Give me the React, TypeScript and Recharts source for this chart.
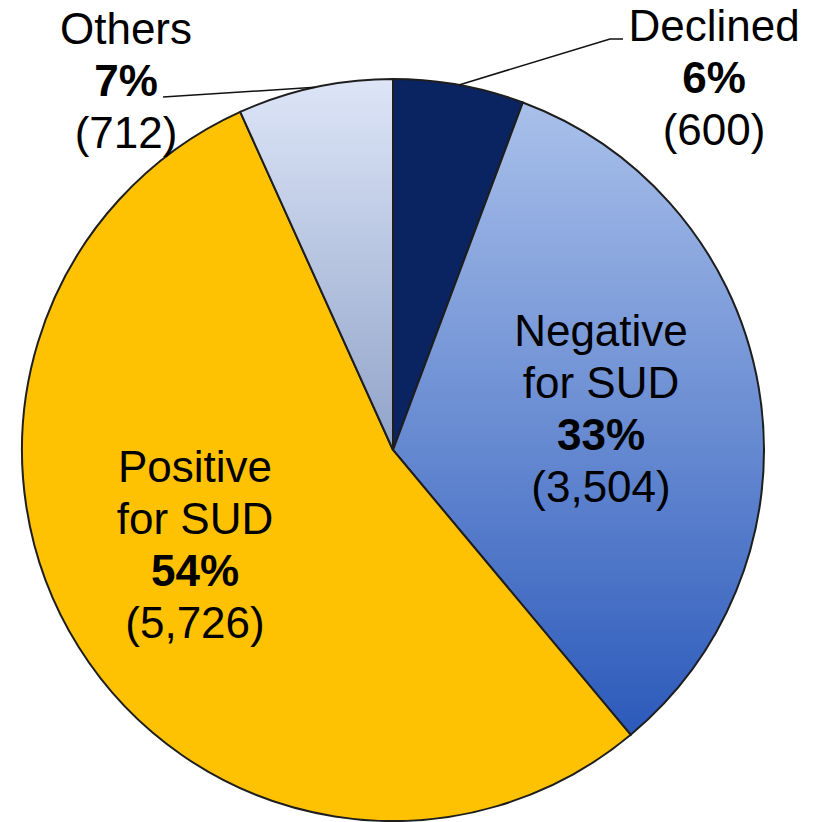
import React from "react";
import { PieChart, Pie, Cell } from "recharts";

// screening outcome slices, clockwise from 12 o'clock
const NAMES = [["Declined"], ["Negative", "for SUD"], ["Positive", "for SUD"], ["Others"]];
const COUNTS = [600, 3504, 5726, 712];
const FILLS = ["#0a2462", "url(#gradNeg)", "#ffc202", "url(#gradOth)"];

// label placement relative to pie centre, leader end points (px)
const LABEL_POS: { dx: number; dy: number; leader?: number[][] }[] = [
  { dx: 321, dy: -409, leader: [[217, -411], [230, -411]] },
  { dx: 208, dy: -104 },
  { dx: -198, dy: 32 },
  { dx: -267, dy: -406, leader: [[-230, -353]] },
];

const TOTAL = COUNTS.reduce((a, b) => a + b, 0);
const data = COUNTS.map((v, i) => ({ name: NAMES[i].join(" "), value: v }));
const RADIAN = Math.PI / 180;
const FONT = "'Liberation Sans', Arial, sans-serif";
const LINE_H = 52;

const renderLabel = (props: any) => {
  const { cx, cy, midAngle, outerRadius, index } = props;
  const pos = LABEL_POS[index];
  const x = cx + pos.dx;
  const y0 = cy + pos.dy;
  const lines = NAMES[index];
  const pct = Math.round((COUNTS[index] / TOTAL) * 100) + "%";
  const cnt = "(" + COUNTS[index].toLocaleString("en-US") + ")";
  let leader = null;
  if (pos.leader) {
    const sx = cx + outerRadius * Math.cos(-midAngle * RADIAN);
    const sy = cy + outerRadius * Math.sin(-midAngle * RADIAN);
    const pts = [[sx, sy], ...pos.leader.map(([a, b]) => [cx + a, cy + b])];
    leader = (
      <polyline
        points={pts.map((p) => p.join(",")).join(" ")}
        fill="none"
        stroke="#111"
        strokeWidth={1.6}
      />
    );
  }
  return (
    <g key={`lbl-${index}`}>
      {leader}
      <text textAnchor="middle" fontFamily={FONT} fontSize={44} fill="#000">
        {lines.map((l, i) => (
          <tspan key={i} x={x} y={y0 + i * LINE_H}>{l}</tspan>
        ))}
        <tspan x={x} y={y0 + lines.length * LINE_H} fontWeight="bold">{pct}</tspan>
        <tspan x={x} y={y0 + (lines.length + 1) * LINE_H}>{cnt}</tspan>
      </text>
    </g>
  );
};

export default function App() {
  return (
    <div style={{ position: "absolute", left: 0, top: 0, width: 819, height: 822, background: "#fff" }}>
      <PieChart width={819} height={822} margin={{ top: 0, right: 0, bottom: 0, left: 0 }}>
        <defs>
          <linearGradient id="gradNeg" x1="0" y1="0" x2="0" y2="1">
            <stop offset="0%" stopColor="#a9c0ea" />
            <stop offset="100%" stopColor="#2c5abb" />
          </linearGradient>
          <linearGradient id="gradOth" x1="0" y1="0" x2="0" y2="1">
            <stop offset="0%" stopColor="#dde5f7" />
            <stop offset="100%" stopColor="#90a3c9" />
          </linearGradient>
        </defs>
        <Pie
          data={data}
          dataKey="value"
          nameKey="name"
          cx={393}
          cy={450}
          outerRadius={371}
          startAngle={90}
          endAngle={-270}
          stroke="#1e1e1e"
          strokeWidth={2}
          label={renderLabel}
          labelLine={false}
          isAnimationActive={false}
        >
          {data.map((d, i) => (
            <Cell key={d.name} fill={FILLS[i]} />
          ))}
        </Pie>
      </PieChart>
    </div>
  );
}
